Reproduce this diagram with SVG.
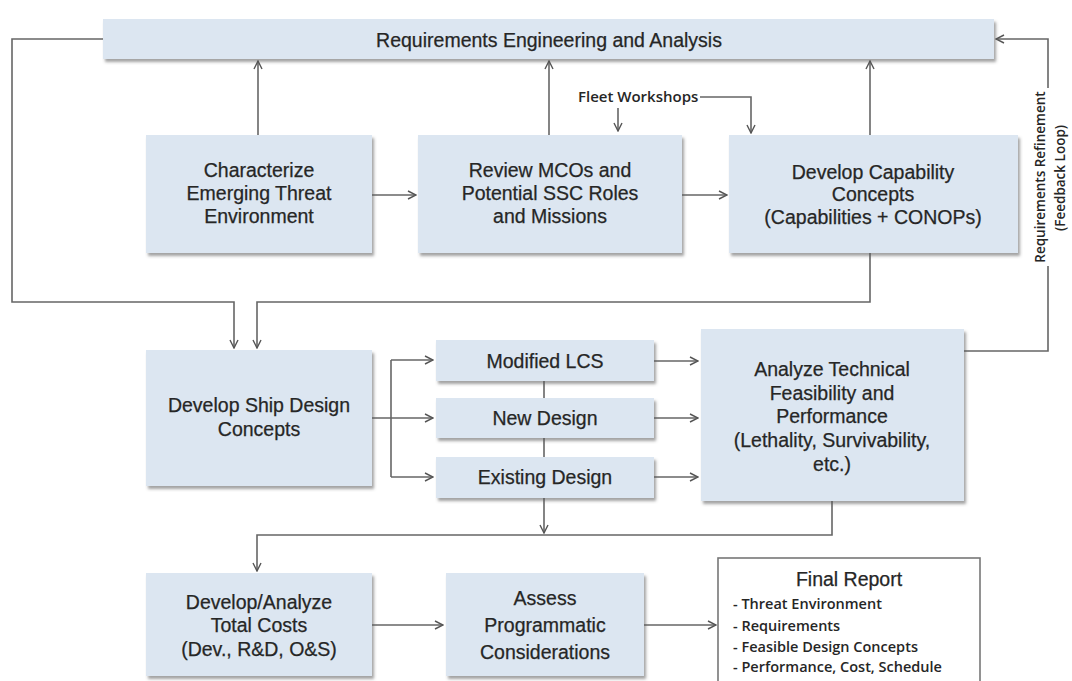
<svg xmlns="http://www.w3.org/2000/svg" width="1072" height="681" viewBox="0 0 1072 681">
<style>
.box{fill:#dce6f1;filter:url(#sh)}
.t{font-family:"Liberation Sans",Arial,sans-serif;font-size:19.5px;fill:#262626;stroke:#262626;stroke-width:0.25;text-anchor:middle}
.s{font-family:"Open Sans","Liberation Sans",sans-serif;font-size:14.5px;font-weight:600;fill:#262626}
.r{font-family:"Open Sans","Liberation Sans",sans-serif;font-size:13.5px;font-weight:600;fill:#262626;text-anchor:middle}
.c{fill:none;stroke:#666;stroke-width:1.6}
.a{marker-end:url(#arr)}
</style>
<defs>
<filter id="sh" x="-5%" y="-5%" width="112%" height="120%">
<feDropShadow dx="2" dy="3" stdDeviation="1.4" flood-color="#555" flood-opacity="0.55"/>
</filter>
<marker id="arr" viewBox="0 0 10 10" refX="9" refY="5" markerWidth="10" markerHeight="10" markerUnits="userSpaceOnUse" orient="auto">
<path d="M1,1 L9,5 L1,9" fill="none" stroke="#555" stroke-width="1.4"/>
</marker>
</defs>
<rect width="1072" height="681" fill="#fff"/>

<g id="connectors">
<path class="c a" d="M103,39 H12 V302 H234 V348"/>
<path class="c a" d="M870,253 V302 H257 V348"/>
<path class="c a" d="M258,135 V61"/>
<path class="c a" d="M549,135 V61"/>
<path class="c a" d="M870,135 V61"/>
<path class="c a" d="M372,195 H416"/>
<path class="c a" d="M682,195 H727"/>
<path class="c a" d="M700,97 H751 V133"/>
<path class="c a" d="M618,108 V131"/>
<path class="c a" d="M372,418 H433"/>
<path class="c" d="M391,360 V477"/>
<path class="c a" d="M391,360 H433"/>
<path class="c a" d="M391,477 H433"/>
<path class="c" d="M544,381 V398 M544,438 V457"/>
<path class="c a" d="M544,498 V533"/>
<path class="c a" d="M654,361 H698"/>
<path class="c a" d="M654,418 H698"/>
<path class="c a" d="M654,477 H698"/>
<path class="c" d="M964,351 H1048 V266"/>
<path class="c a" d="M1048,88 V39 H996"/>
<path class="c a" d="M832,501 V535 H257 V571"/>
<path class="c a" d="M372,625 H443"/>
<path class="c a" d="M644,625 H716"/>
</g>

<g id="req-bar">
<rect class="box" x="103" y="19" width="891" height="40"/>
<text class="t" x="549" y="47">Requirements Engineering and Analysis</text>
</g>

<g id="fleet-workshops">
<text class="s" x="578" y="102" style="font-size:15px">Fleet Workshops</text>
</g>

<g id="feedback-label">
<text class="r" transform="translate(1045,177) rotate(-90)">Requirements Refinement</text>
<text class="r" transform="translate(1065,178) rotate(-90)">(Feedback Loop)</text>
</g>

<g id="characterize">
<rect class="box" x="146" y="135" width="226" height="118"/>
<text class="t" x="259" y="177">Characterize</text>
<text class="t" x="259" y="200">Emerging Threat</text>
<text class="t" x="259" y="223">Environment</text>
</g>

<g id="review">
<rect class="box" x="418" y="135" width="264" height="118"/>
<text class="t" x="550" y="177">Review MCOs and</text>
<text class="t" x="550" y="200">Potential SSC Roles</text>
<text class="t" x="550" y="223">and Missions</text>
</g>

<g id="capability">
<rect class="box" x="729" y="135" width="289" height="118"/>
<text class="t" x="873" y="179">Develop Capability</text>
<text class="t" x="873" y="201">Concepts</text>
<text class="t" x="873" y="224">(Capabilities + CONOPs)</text>
</g>

<g id="ship-design">
<rect class="box" x="146" y="350" width="226" height="136"/>
<text class="t" x="259" y="412">Develop Ship Design</text>
<text class="t" x="259" y="436">Concepts</text>
</g>

<g id="modified-lcs">
<rect class="box" x="436" y="340" width="218" height="41"/>
<text class="t" x="545" y="368">Modified LCS</text>
</g>

<g id="new-design">
<rect class="box" x="436" y="398" width="218" height="40"/>
<text class="t" x="545" y="425">New Design</text>
</g>

<g id="existing-design">
<rect class="box" x="436" y="457" width="218" height="41"/>
<text class="t" x="545" y="484">Existing Design</text>
</g>

<g id="analyze">
<rect class="box" x="701" y="329" width="263" height="172"/>
<text class="t" x="832" y="376">Analyze Technical</text>
<text class="t" x="832" y="400">Feasibility and</text>
<text class="t" x="832" y="423">Performance</text>
<text class="t" x="832" y="447">(Lethality, Survivability,</text>
<text class="t" x="832" y="471">etc.)</text>
</g>

<g id="costs">
<rect class="box" x="146" y="573" width="226" height="103"/>
<text class="t" x="259" y="609">Develop/Analyze</text>
<text class="t" x="259" y="632">Total Costs</text>
<text class="t" x="259" y="656">(Dev., R&amp;D, O&amp;S)</text>
</g>

<g id="assess">
<rect class="box" x="446" y="573" width="198" height="103"/>
<text class="t" x="545" y="605">Assess</text>
<text class="t" x="545" y="632">Programmatic</text>
<text class="t" x="545" y="659">Considerations</text>
</g>

<g id="final-report">
<rect x="718" y="558" width="262" height="126" fill="#fff" stroke="#777" stroke-width="1.6"/>
<text class="t" x="849" y="586">Final Report</text>
<text class="s" x="733" y="609">-  Threat Environment</text>
<text class="s" x="733" y="631">-  Requirements</text>
<text class="s" x="733" y="652">-  Feasible Design Concepts</text>
<text class="s" x="733" y="672">-  Performance, Cost, Schedule</text>
</g>
</svg>
